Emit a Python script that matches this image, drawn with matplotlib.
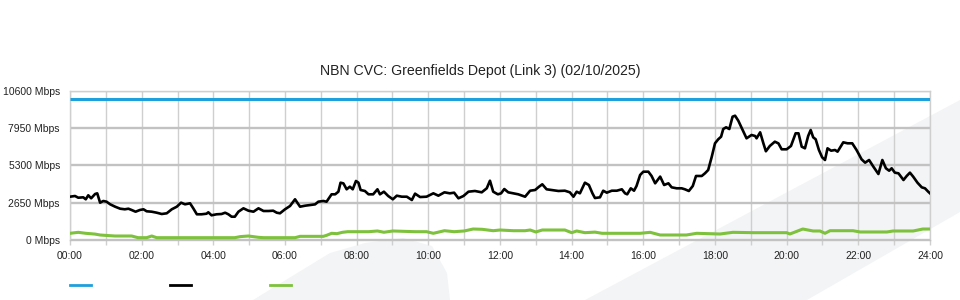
import matplotlib
matplotlib.use("Agg")
import matplotlib.pyplot as plt
from matplotlib.lines import Line2D
from matplotlib.patches import Polygon

plt.rcParams['font.family'] = ['Liberation Sans', 'DejaVu Sans']

title = "NBN CVC: Greenfields Depot (Link 3) (02/10/2025)"

y_ticks = [0, 2650, 5300, 7950, 10600]
y_labels = ["0 Mbps", "2650 Mbps", "5300 Mbps", "7950 Mbps", "10600 Mbps"]
x_ticks = list(range(0, 25, 2))
x_labels = ["%02d:00" % h for h in x_ticks]

capacity_hours = [0, 24]
capacity_values = [10000, 10000]

black_hours = [0.00, 0.14, 0.23, 0.37, 0.44, 0.51, 0.59, 0.70, 0.76, 0.84, 0.93, 1.02, 1.12, 1.26, 1.40,
               1.53, 1.63, 1.72, 1.83, 1.95, 2.05, 2.14, 2.28, 2.42, 2.56, 2.70, 2.84, 2.98, 3.10, 3.21,
               3.35, 3.44, 3.54, 3.67, 3.81, 3.86, 3.95, 4.09, 4.23, 4.33, 4.42, 4.51, 4.60, 4.70, 4.84,
               4.98, 5.12, 5.26, 5.40, 5.54, 5.67, 5.77, 5.86, 6.00, 6.14, 6.28, 6.42, 6.56, 6.70, 6.84,
               6.93, 7.07, 7.16, 7.30, 7.40, 7.49, 7.55, 7.63, 7.72, 7.81, 7.89, 7.98, 8.05, 8.11, 8.23,
               8.33, 8.46, 8.58, 8.65, 8.76, 8.88, 9.01, 9.12, 9.26, 9.40, 9.54, 9.63, 9.77, 9.95, 10.14,
               10.28, 10.45, 10.60, 10.72, 10.84, 10.98, 11.12, 11.30, 11.49, 11.63, 11.72, 11.81, 11.94,
               12.03, 12.12, 12.23, 12.37, 12.51, 12.70, 12.84, 12.98, 13.09, 13.18, 13.30, 13.44, 13.63,
               13.81, 13.95, 14.05, 14.14, 14.23, 14.37, 14.48, 14.58, 14.65, 14.79, 14.88, 14.98, 15.12,
               15.26, 15.40, 15.49, 15.55, 15.65, 15.74, 15.81, 15.91, 16.00, 16.14, 16.23, 16.33, 16.47,
               16.58, 16.70, 16.79, 16.93, 17.07, 17.16, 17.27, 17.38, 17.47, 17.63, 17.72, 17.81, 17.91,
               18.00, 18.09, 18.17, 18.23, 18.31, 18.40, 18.49, 18.56, 18.65, 18.77, 18.88, 19.02, 19.12,
               19.16, 19.26, 19.35, 19.42, 19.53, 19.67, 19.77, 19.86, 20.00, 20.12, 20.25, 20.33, 20.42,
               20.51, 20.60, 20.67, 20.74, 20.81, 20.90, 20.99, 21.07, 21.14, 21.24, 21.35, 21.42, 21.58,
               21.70, 21.83, 21.95, 22.09, 22.19, 22.30, 22.42, 22.56, 22.67, 22.77, 22.86, 22.93, 23.02,
               23.12, 23.26, 23.35, 23.44, 23.53, 23.65, 23.77, 23.86, 23.95, 24.00]
black_values = [3075, 3124, 3003, 3030, 2890, 3174, 2960, 3266, 3314, 2650, 2770, 2720, 2535, 2364, 2222,
                2180, 2222, 2130, 2009, 2130, 2180, 2038, 2009, 1938, 1846, 1896, 2180, 2364, 2650, 2535,
                2606, 2250, 1825, 1825, 1867, 1967, 1754, 1825, 1846, 1938, 1825, 1654, 1654, 2009, 2250,
                2080, 2009, 2250, 2059, 2059, 2080, 1938, 1896, 2180, 2414, 2890, 2364, 2435, 2485, 2530,
                2720, 2770, 2720, 3244, 3244, 3430, 4070, 4020, 3600, 3785, 3600, 4190, 4070, 3550, 3480,
                3244, 3244, 3600, 3244, 3430, 3124, 2890, 3146, 3074, 3074, 2840, 3290, 3050, 3074, 3314,
                3146, 3385, 3314, 3360, 2960, 3124, 3430, 3480, 3385, 3670, 4210, 3430, 3244,
                3314, 3620, 3385, 3314, 3244, 3074, 3500, 3550, 3785, 3955, 3600, 3550, 3480,
                3500, 3385, 3074, 3430, 3314, 4070, 3905, 3314, 2980, 3030, 3500, 3360, 3500,
                3500, 3600, 3314, 3244, 3670, 3500, 3834, 4615, 4850, 4850, 4545, 4025, 4500,
                3905, 4025, 3740, 3670, 3670, 3600, 3480, 3834, 4545, 4545, 4735, 4970, 5915,
                6865, 7150, 7335, 7880, 8000, 7880, 8755, 8825, 8470, 7810, 7220, 7455, 7385,
                7220, 7645, 6865, 6300, 6675, 6980, 6860, 6440, 6440, 6675, 7575, 7575, 6625,
                6510, 7385, 7810, 7290, 7150, 6390, 5870, 5680, 6510, 6340, 6390, 6270, 6935,
                6865, 6865, 6390, 5730, 5490, 5680, 5205, 4685, 5680, 5090, 4920, 5090, 4780,
                4735, 4260, 4545, 4780, 4500, 4070, 3740, 3670, 3430, 3314]

green_hours = [0.00, 0.23, 0.44, 0.70, 0.84, 1.12, 1.26, 1.72, 1.90, 2.14, 2.28, 2.42, 4.60, 4.75, 4.98,
               5.26, 5.40, 6.28, 6.42, 7.07, 7.16, 7.30, 7.45, 7.60, 7.75, 8.33, 8.58, 8.76, 9.01, 9.63,
               9.95, 10.14, 10.45, 10.72, 11.00, 11.25, 11.50, 11.81, 12.00, 12.37, 12.70, 12.84, 13.00,
               13.18, 13.81, 14.00, 14.14, 14.37, 14.65, 14.85, 15.91, 16.19, 16.47, 17.20, 17.49, 18.14,
               18.50, 19.07, 20.00, 20.09, 20.45, 20.74, 20.93, 21.07, 21.21, 21.85, 22.05, 22.80, 22.97,
               23.53, 23.80, 24.00]
green_values = [475, 545, 475, 420, 355, 305, 284, 284, 165, 165, 284, 165, 165, 240, 284,
                190, 165, 165, 260, 260, 330, 475, 450, 545, 590, 590, 640, 550, 640, 590,
                590, 475, 660, 590, 640, 780, 760, 660, 710, 660, 660, 710, 570,
                710, 710, 520, 640, 520, 560, 475, 475, 545, 355, 355, 475, 426,
                545, 520, 520, 426, 780, 640, 640, 475, 660, 660, 570, 570, 640,
                640, 780, 780]

BLUE = '#1ea0dc'
BLACK = '#000000'
GREEN = '#7dc13c'
WATER = '#f3f4f6'

fig = plt.figure(figsize=(9.6, 3.0), dpi=100)
fig.patch.set_facecolor('white')

# faint background watermark shapes (figure pixel coords -> fraction)
def fpoly(pts):
    return Polygon([(x / 960, 1 - y / 300) for x, y in pts], closed=True,
                   transform=fig.transFigure, facecolor=WATER, edgecolor='none', zorder=0)

fig.patches.append(fpoly([(253, 300), (330, 253), (365, 243), (403, 238), (432, 246), (447, 273), (450, 300)]))
fig.patches.append(fpoly([(585, 300), (960, 100), (960, 212), (807, 300)]))

ax = fig.add_axes([70 / 960, 60 / 300, 860 / 960, 149.3 / 300])
ax.set_facecolor('none')
ax.set_zorder(1)

ax.plot(capacity_hours, capacity_values, color=BLUE, lw=2.2, zorder=5, solid_capstyle='butt')
ax.plot(green_hours, green_values, color=GREEN, lw=2.2, zorder=4)
ax.plot(black_hours, black_values, color=BLACK, lw=1.9, zorder=6)

ax.set_xlim(0, 24)
ax.set_ylim(0, 10600)
ax.set_xticks(x_ticks)
ax.set_xticklabels(x_labels)
ax.set_xticks(range(0, 25), minor=True)
ax.set_yticks(y_ticks)
ax.set_yticklabels(y_labels)

ax.grid(True, which='both', axis='x', color='#cfcfcf', lw=1.0, zorder=1)
ax.grid(True, which='major', axis='y', color='#c2c2c2', lw=1.7, zorder=1)
for s in ax.spines.values():
    s.set_color('#cfcfcf')
    s.set_linewidth(1.0)
ax.spines['bottom'].set_color('#c2c2c2')
ax.set_axisbelow(True)

ax.tick_params(axis='y', length=0, pad=7.2, labelsize=7.5, labelcolor='#222222')
ax.tick_params(axis='x', which='both', length=3.6, width=1.0, color='#cfcfcf',
               pad=4.5, labelsize=7.5, labelcolor='#222222')

fig.text(0.5, 1 - 71 / 300, title, ha='center', va='center', fontsize=10.2, color='#222222')

# legend swatches (no labels in the original)
for x0, c in [(70, BLUE), (170, BLACK), (270, GREEN)]:
    fig.lines.append(Line2D([x0 / 960, (x0 + 21) / 960], [1 - 285 / 300, 1 - 285 / 300],
                            transform=fig.transFigure, color=c, lw=2.0))

fig.savefig('out.png', dpi=100, facecolor='white')
